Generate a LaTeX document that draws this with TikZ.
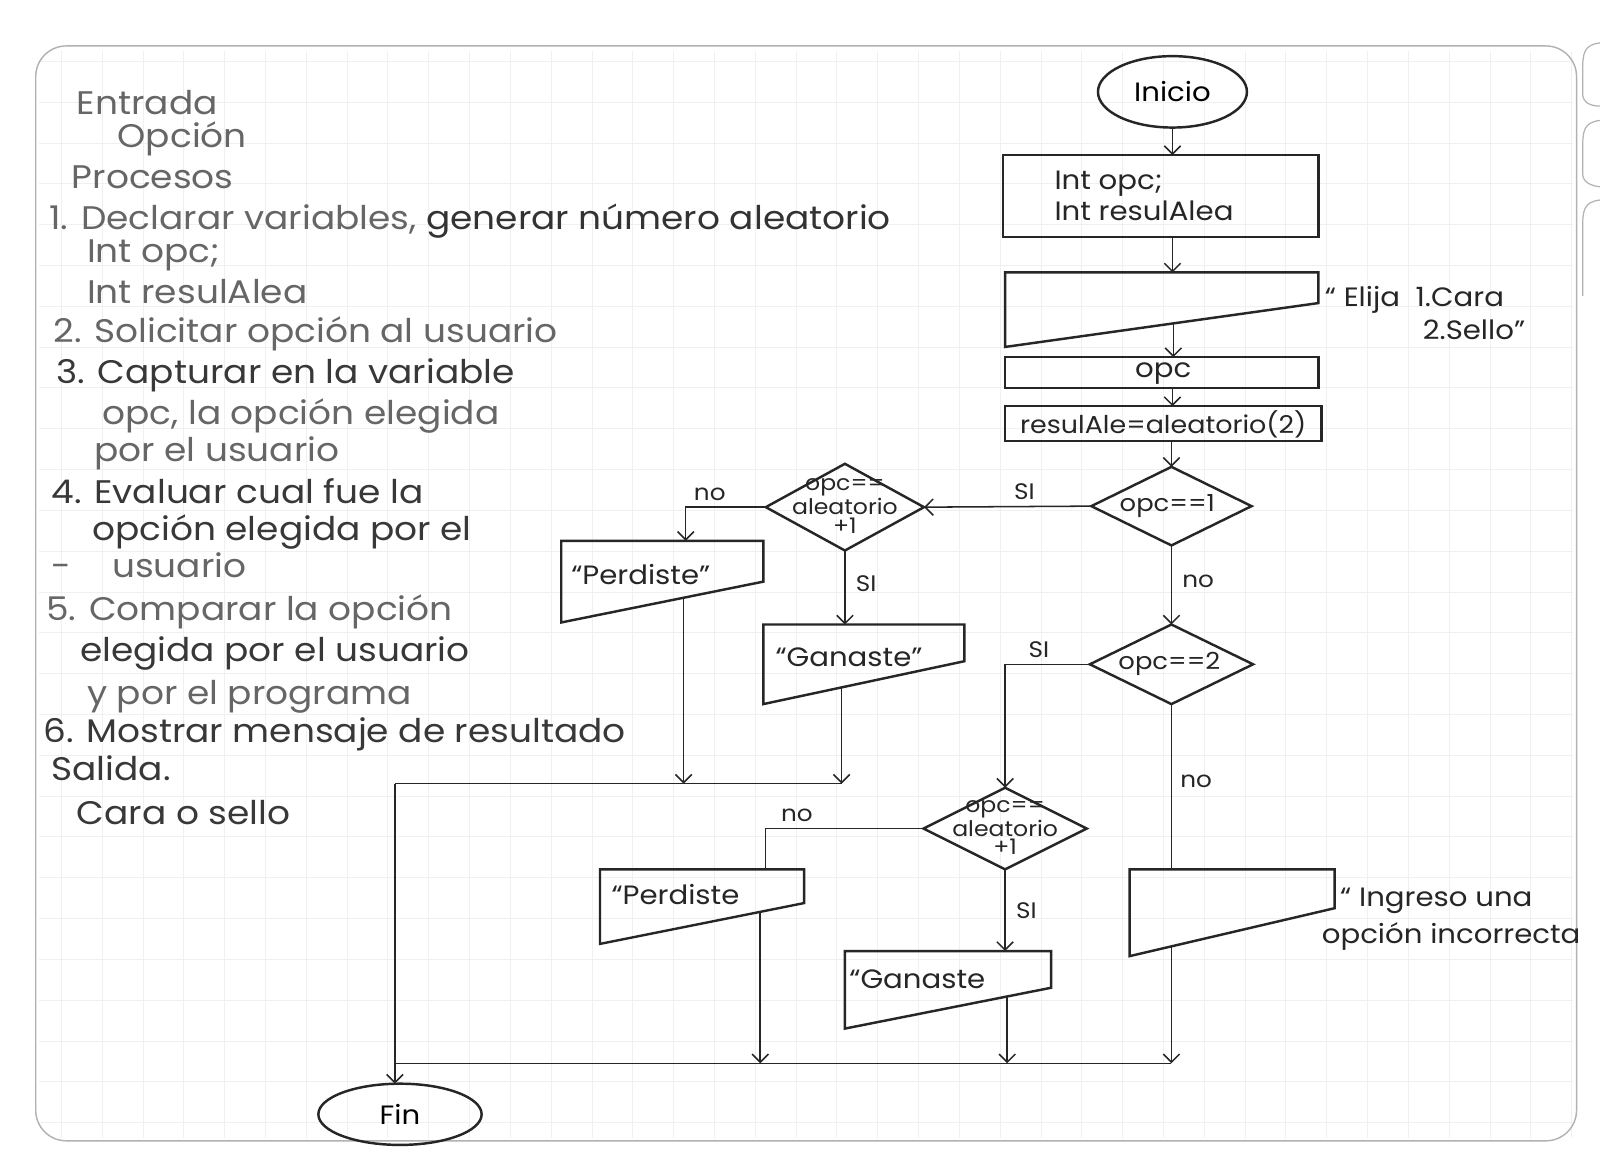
\documentclass[tikz,border=0pt]{standalone}
\usepackage{fontspec}
\setmainfont{Poppins}[FakeStretch=1.1]
\usetikzlibrary{shapes.geometric,arrows.meta,calc}
\begin{document}
\begin{tikzpicture}[x=0.5pt,y=-0.5pt,
  ink/.style={line width=1.2pt, draw=black!85},
  conn/.style={line width=0.75pt, draw=black!85},
  arr/.style={conn, -{Straight Barb[length=4pt,width=8pt]}},
  ftext/.style={font=\fontsize{13}{14}\selectfont, text=black!85, inner sep=0pt},
  dtext/.style={font=\fontsize{10.5}{9}\selectfont, text=black!85, inner sep=0pt, align=center},
  hand/.style={font=\fontsize{16}{18}\selectfont, text=black!60, anchor=base west, inner sep=0pt},
  handd/.style={hand, text=black!78},
  dia/.style={diamond, ink, inner sep=0pt, outer sep=0pt},
  term/.style={ellipse, ink, inner sep=0pt, outer sep=0pt, font=\fontsize{13}{14}\selectfont},
  boxn/.style={rectangle, ink, inner sep=0pt, outer sep=0pt},
  lbl/.style={font=\fontsize{11}{12}\selectfont, text=black!85, inner sep=1pt},
]
\useasboundingbox (0,0) rectangle (1568,1148);
\fill[white] (0,0) rectangle (1568,1148);
% graph paper
\foreach \gx in {60,100,...,1540} \draw[black!6, line width=0.3pt] (\gx,50) -- (\gx,1115);
\foreach \gy in {60,100,...,1100} \draw[black!6, line width=0.3pt] (38,\gy) -- (1542,\gy);
% page border and tabs
\draw[black!30, line width=0.7pt, rounded corners=15pt] (35,45) rectangle (1545,1118);
\draw[black!30, line width=0.6pt] (1568,42) .. controls (1552,44) and (1551,52) .. (1551,70) -- (1551,92) .. controls (1551,100) and (1558,104) .. (1568,104);
\draw[black!30, line width=0.6pt] (1568,118) .. controls (1552,120) and (1551,128) .. (1551,146) -- (1551,170) .. controls (1551,178) and (1558,182) .. (1568,183);
\draw[black!30, line width=0.6pt] (1568,196) .. controls (1552,198) and (1551,206) .. (1551,224) -- (1551,290);

% ---------- left column text ----------
\node[hand] (t1) at (75,112) {Entrada};
\node[hand] (t2) at (115,145) {Opción};
\node[hand] (t3) at (70,185) {Procesos};
\node[hand] (t4) at (48,225) {1. Declarar variables, \textcolor{black!80}{generar número aleatorio}};
\node[hand] (t5) at (85,257) {Int opc;};
\node[hand] (t6) at (85,297) {Int resulAlea};
\node[hand] (t7) at (52,336) {2. Solicitar opción al usuario};
\node[handd] (t8) at (55,376) {3. Capturar en la variable};
\node[hand] (t9) at (100,416) {opc, la opción elegida};
\node[hand] (t10) at (92,452) {por el usuario};
\node[handd] (t11) at (50,493) {4. Evaluar cual fue la};
\node[handd] (t12) at (90,530) {opción elegida por el};
\node[hand] (t13) at (50,566) {-\hspace{20pt}usuario};
\node[hand] (t14) at (45,608) {5. Comparar la opción};
\node[handd] (t15) at (78,648) {elegida por el usuario};
\node[hand] (t16) at (85,690) {y por el programa};
\node[handd] (t17) at (42,728) {6. Mostrar mensaje de resultado};
\node[handd] (t18) at (50,765) {Salida.};
\node[handd] (t19) at (75,808) {Cara o sello};

% ---------- flowchart ----------
\node[term, minimum width=73pt, minimum height=35pt] (inicio) at (1149,90) {Inicio};
\node[boxn, minimum width=154.5pt, minimum height=40pt] (b1) at (1137.5,192) {};
\node[ftext, align=left, anchor=west] (b1t) at (1033,192) {Int opc;\\[1pt] Int resulAlea};

% Elija display
\coordinate (e1nw) at (985,267); \coordinate (e1ne) at (1292,267);
\coordinate (e1rb) at (1292,297); \coordinate (e1lb) at (985,340);
\draw[ink] (e1nw) -- (e1ne) -- (e1rb) -- (e1lb) -- cycle;
\node[ftext, anchor=base west] (e1a) at (1298,300) {“ Elija\ \ 1.Cara};
\node[ftext, anchor=base east] (e1b) at (1495,333) {2.Sello”};

\node[boxn, minimum width=153.5pt, minimum height=15pt] (b3) at (1138.5,365) {};
\node[ftext] (b3t) at (1140,366) {opc};
\node[boxn, minimum width=155pt, minimum height=17pt] (b4) at (1140,415) {};
\node[ftext, font=\fontsize{12}{13}\selectfont] (b4t) at (1140,416) {resulAle=aleatorio(2)};

\node[dia, minimum width=78.5pt, minimum height=38.5pt] (d1) at (1148,496) {};
\node[ftext, font=\fontsize{11.5}{13}\selectfont] (d1t) at (1144,496) {opc==1};
\node[dia, minimum width=80pt, minimum height=39pt] (d2) at (1148,651) {};
\node[ftext, font=\fontsize{11.5}{13}\selectfont] (d2t) at (1146,651) {opc==2};
\node[dia, minimum width=77.5pt, minimum height=42.5pt] (d3) at (828,497) {};
\node[dtext] (d3t) at (828,496) {opc==\\aleatorio\\+1};
\node[dia, minimum width=80pt, minimum height=40pt] (d4) at (985,812) {};
\node[dtext] (d4t) at (985,811) {opc==\\aleatorio\\+1};

% Perdiste 1
\coordinate (p1nw) at (550,530); \coordinate (p1ne) at (748,530);
\coordinate (p1rb) at (748,570); \coordinate (p1lb) at (550,610);
\draw[ink] (p1nw) -- (p1ne) -- (p1rb) -- (p1lb) -- cycle;
\node[ftext] (p1t) at (628,563) {“Perdiste”};
% Ganaste 1
\coordinate (g1nw) at (748,612); \coordinate (g1ne) at (945,612);
\coordinate (g1rb) at (945,648); \coordinate (g1lb) at (748,690);
\draw[ink] (g1nw) -- (g1ne) -- (g1rb) -- (g1lb) -- cycle;
\node[ftext] (g1t) at (832,644) {“Ganaste”};
% Perdiste 2
\coordinate (p2nw) at (588,852); \coordinate (p2ne) at (788,852);
\coordinate (p2rb) at (788,885); \coordinate (p2lb) at (588,925);
\draw[ink] (p2nw) -- (p2ne) -- (p2rb) -- (p2lb) -- cycle;
\node[ftext] (p2t) at (662,877) {“Perdiste};
% Ganaste 2
\coordinate (g2nw) at (828,932); \coordinate (g2ne) at (1030,932);
\coordinate (g2rb) at (1030,968); \coordinate (g2lb) at (828,1008);
\draw[ink] (g2nw) -- (g2ne) -- (g2rb) -- (g2lb) -- cycle;
\node[ftext] (g2t) at (899,960) {“Ganaste};
% Ingreso
\coordinate (inw) at (1107,852); \coordinate (ine) at (1308,852);
\coordinate (irb) at (1308,890); \coordinate (ilb) at (1107,937);
\draw[ink] (inw) -- (ine) -- (irb) -- (ilb) -- cycle;
\node[ftext, anchor=base west] (ia) at (1313,888) {“ Ingreso una};
\node[ftext, anchor=base west] (ib) at (1295,925) {opción incorrecta};

\node[term, minimum width=80pt, minimum height=30pt] (fin) at (392,1092) {Fin};

% ---------- connectors ----------
\draw[arr] (inicio.south) -- (inicio.south |- b1.north);
\draw[arr] (b1.south -| inicio.south) -- (inicio.south |- e1nw);
\coordinate (e1out) at ($(e1lb)!0.537!(e1rb)$);
\draw[arr] (e1out) -- (e1out |- b3.north);
\draw[arr] (b3.south -| inicio.south) -- (inicio.south |- b4.north);
\draw[arr] (b4.south -| d1.north) -- (d1.north);

\draw[arr] (d1.south) -- (d2.north) node[lbl, pos=0.45, right=4pt] (l1) {no};
\draw[arr] (d1.west) -- (d3.east) node[lbl, pos=0.4, above=2pt] (l2) {SI};
\draw[arr] (d3.west) -| (p1nw -| 672,0) node[lbl, pos=0.35, above=2pt] (l3) {no};
\draw[arr] (d3.south) -- (d3.south |- g1nw) node[lbl, pos=0.45, right=4pt] (l4) {SI};
\draw[arr] (d2.west) -| (d4.north) node[lbl, pos=0.3, above=2pt] (l5) {SI};
\draw[conn] (d2.south) -- (d2.south |- inw) node[lbl, pos=0.47, right=3pt] (l6) {no};
\draw[conn] (d4.west) -| (p2nw -| 750,0) node[lbl, pos=0.4, above=2pt] (l7) {no};
\draw[arr] (d4.south) -- (d4.south |- g2nw) node[lbl, pos=0.5, right=4pt] (l8) {SI};

% merge 1
\coordinate (j1) at (387,768);
\coordinate (j2) at (387,1042);
\coordinate (p1out) at ($(p1lb)!0.606!(p1rb)$);
\coordinate (g1out) at ($(g1lb)!0.39!(g1rb)$);
\draw[arr] (p1out) -- (p1out |- j1);
\draw[arr] (g1out) -- (g1out |- j1);
\draw[conn] (j1) -- (g1out |- j1);
\draw[arr] (j1) -- (j1 |- fin.north);
% merge 2
\coordinate (p2out) at ($(p2lb)!0.785!(p2rb)$);
\coordinate (g2out) at ($(g2lb)!0.787!(g2rb)$);
\coordinate (iout) at ($(ilb)!0.204!(irb)$);
\draw[arr] (p2out) -- (p2out |- j2);
\draw[arr] (g2out) -- (g2out |- j2);
\draw[arr] (iout) -- (iout |- j2);
\draw[conn] (j2) -- (iout |- j2);
\end{tikzpicture}
\end{document}
